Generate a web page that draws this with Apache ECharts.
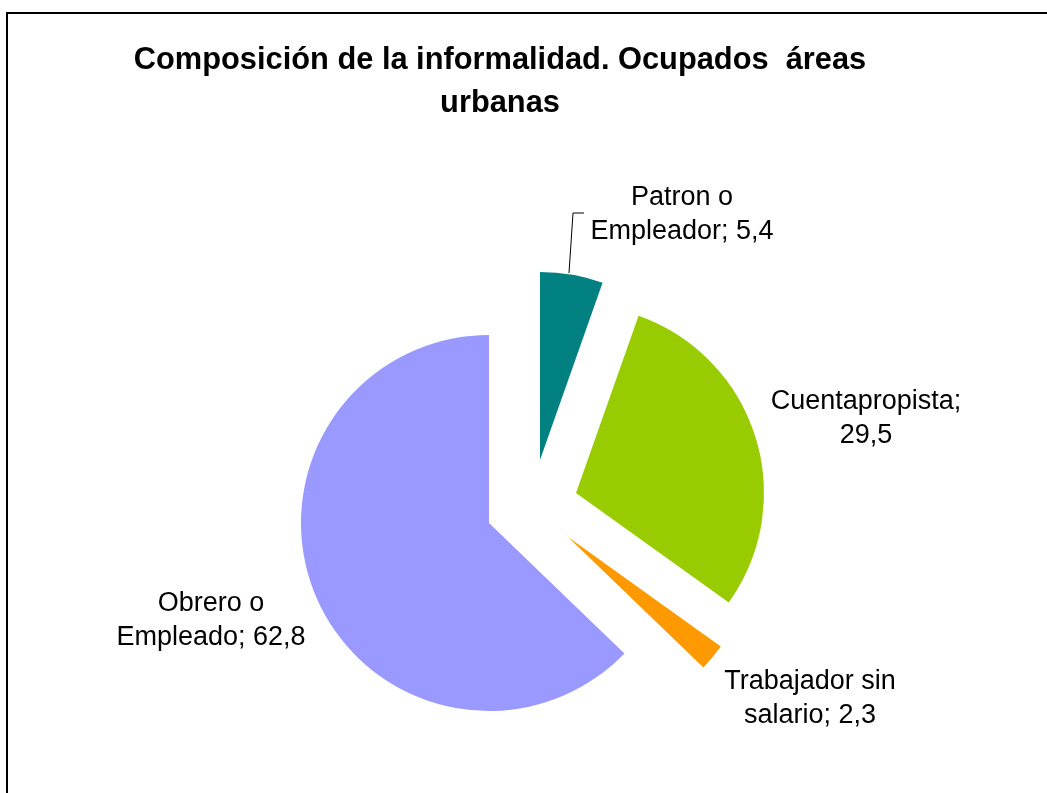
<!DOCTYPE html>
<html>
<head>
<meta charset="utf-8">
<script src="https://cdn.jsdelivr.net/npm/echarts@6/dist/echarts.min.js"></script>
<style>
html,body{margin:0;padding:0;background:#fff;}
#chart{width:1047px;height:793px;}
</style>
</head>
<body>
<div id="chart"></div>
<script>
// Data
var titleText = 'Composición de la informalidad. Ocupados  áreas\nurbanas';
var categories = ['Patron o\nEmpleador', 'Cuentapropista', 'Trabajador sin\nsalario', 'Obrero o\nEmpleado'];
var values = [5.4, 29.5, 2.3, 62.8];
var colors = ['#008080', '#99CC00', '#FF9900', '#9999FF'];

// Layout (per slice: pie center after explosion, label position)
var sliceCenters = [[540, 460], [576, 493], [568, 537], [489, 523]];
var labelPos = [[682, 215], [866, 419], [810, 699], [211, 621]];
var R = 188;
var FONT = '"Liberation Sans", Arial, sans-serif';

function fmtVal(v) { return String(v).replace('.', ','); }
function labelText(name, v) {
  return name.indexOf('\n') >= 0 ? name + '; ' + fmtVal(v) : name + ';\n' + fmtVal(v);
}

var series = categories.map(function (c, k) {
  return {
    type: 'pie',
    radius: R,
    center: sliceCenters[k],
    startAngle: 90,
    clockwise: true,
    avoidLabelOverlap: false,
    silent: true,
    emphasis: { disabled: true },
    data: categories.map(function (name, i) {
      var vis = i === k;
      return {
        name: name,
        value: values[i],
        itemStyle: vis ? { color: colors[i], borderWidth: 0 } : { color: 'rgba(0,0,0,0)', borderWidth: 0 },
        label: {
          show: vis,
          position: 'outside',
          formatter: function (p) { return labelText(p.name, p.value); },
          fontFamily: FONT,
          fontSize: 27,
          lineHeight: 34,
          color: '#000',
          align: 'center'
        },
        labelLine: {
          show: vis && k === 0,
          lineStyle: { color: '#000', width: 1 }
        }
      };
    }),
    labelLayout: function (p) {
      var o = {
        x: labelPos[k][0],
        y: labelPos[k][1],
        align: 'center',
        verticalAlign: 'middle'
      };
      if (k === 0) {
        o.labelLinePoints = [[569, 273], [573, 213], [584, 213]];
      }
      return o;
    }
  };
});

var chart = echarts.init(document.getElementById('chart'), null, { renderer: 'canvas' });
chart.setOption({
  backgroundColor: '#fff',
  animation: false,
  title: {
    text: titleText,
    left: 495,
    top: 34,
    textAlign: 'center',
    textStyle: {
      fontFamily: FONT,
      fontSize: 30.8,
      fontWeight: 'bold',
      color: '#000',
      lineHeight: 43
    }
  },
  graphic: [{
    type: 'rect',
    shape: { x: 7, y: 13, width: 1100, height: 900 },
    style: { fill: 'none', stroke: '#000', lineWidth: 2 },
    silent: true,
    z: -1
  }],
  series: series
});
</script>
</body>
</html>
